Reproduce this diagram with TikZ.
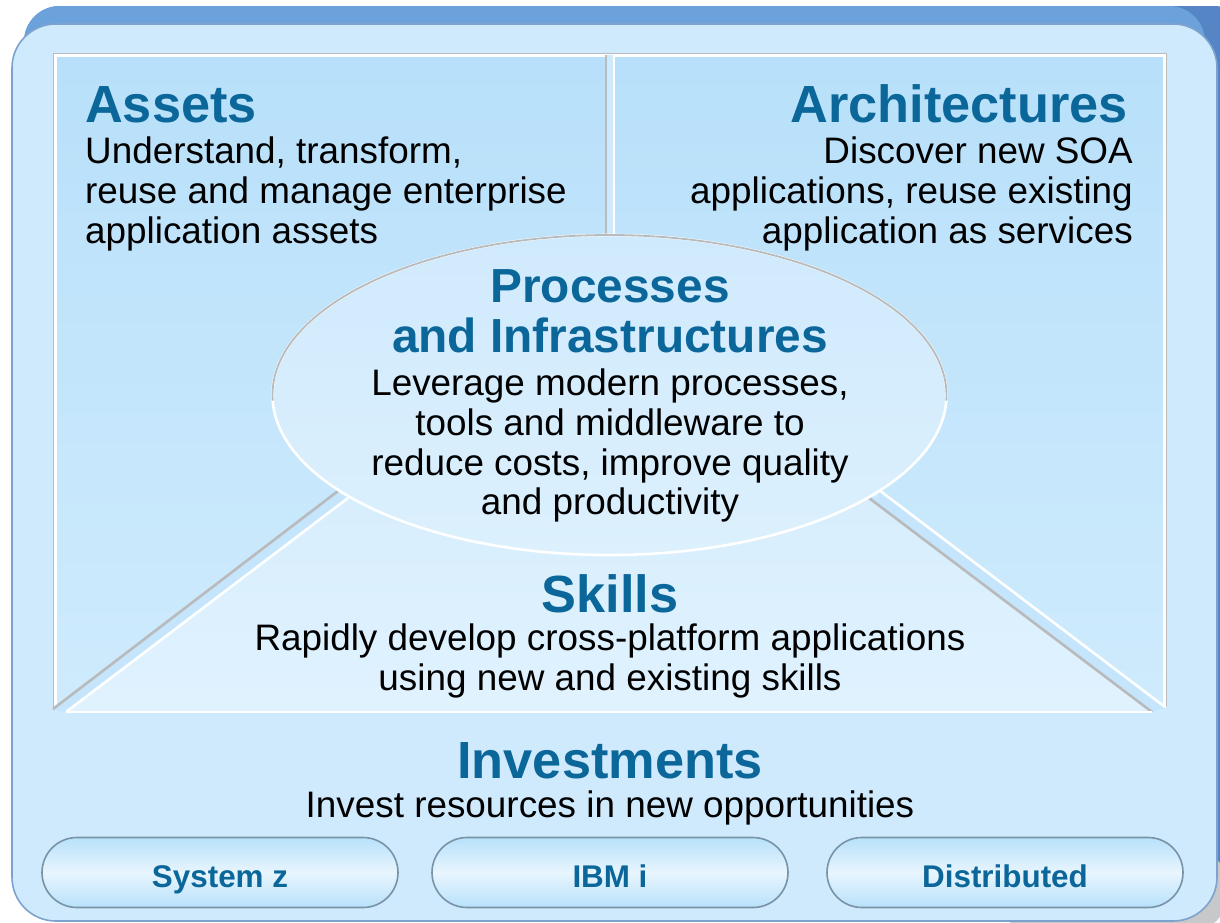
\documentclass[tikz,border=0pt]{standalone}
\usepackage{fontspec}
\setmainfont{Liberation Sans}
\usetikzlibrary{shapes.misc,calc}
\definecolor{ttlblue}{HTML}{0B6699}
\definecolor{panelc}{HTML}{D0EAFD}
\definecolor{panelrim}{HTML}{7EA2CE}
\definecolor{slabc}{HTML}{6CA2DC}
\definecolor{slabdark}{HTML}{5585C4}
\definecolor{uptop}{HTML}{B8E0FA}
\definecolor{upbot}{HTML}{CFEBFD}
\definecolor{skilltop}{HTML}{D8EEFD}
\definecolor{skillbot}{HTML}{E0F2FE}
\definecolor{stripc}{HTML}{C4E5FC}
\definecolor{elltop}{HTML}{D0EAFD}
\definecolor{ellbot}{HTML}{DCF0FD}
\definecolor{edgegray}{HTML}{B9BABB}
\definecolor{btnrim}{HTML}{7892A6}
\definecolor{btnedge}{HTML}{B8E1FA}
\definecolor{btnmid}{HTML}{E8F5FE}
\begin{document}
\begin{tikzpicture}[x=1bp,y=-1bp,
  ttl/.style={font=\fontsize{52.5}{60}\selectfont\bfseries, text=ttlblue, inner sep=0pt},
  ttlsm/.style={font=\fontsize{48}{56}\selectfont\bfseries, text=ttlblue, inner sep=0pt},
  bodytxt/.style={font=\fontsize{37}{42}\selectfont, text=black, inner sep=0pt},
  btntxt/.style={font=\fontsize{31.5}{36}\selectfont\bfseries, text=ttlblue, inner sep=0pt},
  btnshape/.style={rounded rectangle, minimum width=356bp, minimum height=70bp, inner sep=0pt,
     draw=btnrim, line width=1.6bp, top color=btnedge, bottom color=btnedge, middle color=btnmid},
  whiteedge/.style={draw=white, line width=2.6bp},
  grayedge/.style={draw=edgegray, line width=2.6bp}
]
\useasboundingbox (0,0) rectangle (1220,923);
\begin{scope}
\clip (0,0) rectangle (1220,923);
\fill[white] (0,0) rectangle (1220,923);
% back slab
\fill[slabdark, rounded corners=36] (24,6) rectangle (1250,912);
\fill[slabc, rounded corners=36] (24,6) rectangle (1205,860);
% shadow at bottom right
\fill[edgegray!80, rounded corners=30] (1000,850) rectangle (1225,930);
% main light panel
\draw[fill=panelc, draw=panelrim, line width=1.6bp, rounded corners=44] (12,24) rectangle (1217,921);
\end{scope}
% upper panels
\shade[top color=uptop, bottom color=upbot] (55,55) rectangle (1165,712);
\draw[edgegray, line width=1.2bp] (53.3,710) -- (53.3,53.3) -- (1166.7,53.3) -- (1166.7,706);
\draw[whiteedge] (55.5,708) -- (55.5,55.5) -- (1164.5,55.5) -- (1164.5,708);
% divider
\fill[panelc] (606,55) rectangle (614,242);
\draw[grayedge] (606,55) -- (606,242);
\draw[whiteedge] (614,55) -- (614,242);
% skills trapezoid
\shade[top color=skilltop, bottom color=skillbot] (66,712) -- (348,498) -- (869,498) -- (1152,712) -- cycle;
\fill[stripc] (53,710) -- (338,491) -- (348,498) -- (66,712) -- cycle;
\fill[stripc] (869,498) -- (879,490) -- (1165,708) -- (1152,712) -- cycle;
\draw[grayedge] (53,709) -- (338,491);
\draw[whiteedge] (66,712) -- (348,498);
\draw[grayedge] (869,498) -- (1152,712);
\draw[whiteedge] (879,490) -- (1165,707);
\draw[whiteedge] (66,712) -- (1152,712);
\fill[panelc!90!white] (340,469) rectangle (362,495);
\fill[panelc!90!white] (855,470) rectangle (878,497);
% ellipse
\shade[top color=elltop, bottom color=ellbot] (609.5,395) ellipse [x radius=337, y radius=160];
\draw[white, line width=2.6bp] (609.5,395) ellipse [x radius=337, y radius=160];
\draw[edgegray, line width=1.8bp] ($(609.5,395)+(178:337 and 160)$) arc[start angle=178, end angle=362, x radius=337, y radius=160];
% texts: Assets
\node[ttl, anchor=base west] (assetsT) at (85,122) {Assets};
\node[bodytxt, anchor=base west] (assets1) at (85,163) {Understand, transform,};
\node[bodytxt, anchor=base west] (assets2) at (85,203) {reuse and manage enterprise};
\node[bodytxt, anchor=base west] (assets3) at (85,243) {application assets};
% Architectures
\node[ttl, anchor=base east] (archT) at (1128,122) {Architectures};
\node[bodytxt, anchor=base east] (arch1) at (1133,163) {Discover new SOA};
\node[bodytxt, anchor=base east] (arch2) at (1133,203) {applications, reuse existing};
\node[bodytxt, anchor=base east] (arch3) at (1133,243) {application as services};
% Processes
\node[ttlsm, anchor=base] (procT1) at (610,302) {Processes};
\node[ttlsm, anchor=base] (procT2) at (610,352) {and Infrastructures};
\node[bodytxt, anchor=base] (proc1) at (610,395) {Leverage modern processes,};
\node[bodytxt, anchor=base] (proc2) at (610,435) {tools and middleware to};
\node[bodytxt, anchor=base] (proc3) at (610,475) {reduce costs, improve quality};
\node[bodytxt, anchor=base] (proc4) at (610,514) {and productivity};
% Skills
\node[ttl, anchor=base] (skillT) at (610,612) {Skills};
\node[bodytxt, anchor=base] (skill1) at (610,650) {Rapidly develop cross-platform applications};
\node[bodytxt, anchor=base] (skill2) at (610,690) {using new and existing skills};
% Investments
\node[ttl, anchor=base] (invT) at (610,778) {Investments};
\node[bodytxt, anchor=base] (inv1) at (610,817) {Invest resources in new opportunities};
% buttons
\node[btnshape] (sysz) at (220,872.5) {};
\node[btnshape] (ibmi) at (610,872.5) {};
\node[btnshape] (dist) at (1005,872.5) {};
\node[btntxt, anchor=base] (syszT) at (220,887) {System z};
\node[btntxt, anchor=base] (ibmiT) at (610,887) {IBM i};
\node[btntxt, anchor=base] (distT) at (1005,887) {Distributed};
\end{tikzpicture}
\end{document}
